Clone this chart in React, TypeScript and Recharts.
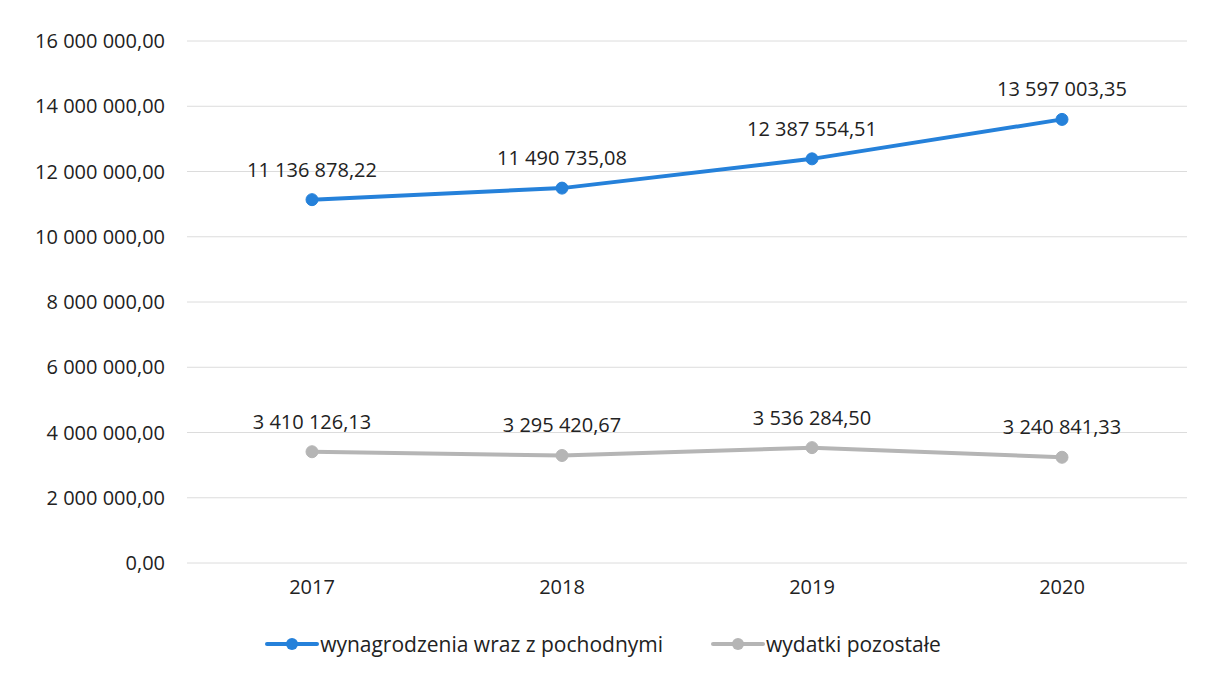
import React from "react";
import { LineChart, Line, XAxis, YAxis, CartesianGrid, LabelList, Legend } from "recharts";

const years = ["2017", "2018", "2019", "2020"];
const wynagrodzenia = [11136878.22, 11490735.08, 12387554.51, 13597003.35];
const wydatki = [3410126.13, 3295420.67, 3536284.5, 3240841.33];
const yTicks = [0, 2000000, 4000000, 6000000, 8000000, 10000000, 12000000, 14000000, 16000000];

const data = years.map((y, i) => ({ year: y, a: wynagrodzenia[i], b: wydatki[i] }));

const BLUE = "#2581da";
const GRAY = "#b5b5b5";
const FONT = "'Open Sans', sans-serif";

function fmt(v: number): string {
  const [int, dec] = Math.abs(v).toFixed(2).split(".");
  const grouped = int.replace(/\B(?=(\d{3})+(?!\d))/g, " ");
  return grouped + "," + dec;
}

const LegendContent = () => {
  const items = [
    { name: "wynagrodzenia wraz z pochodnymi", color: BLUE },
    { name: "wydatki pozostałe", color: GRAY },
  ];
  return (
    <div style={{ display: "flex", justifyContent: "center", gap: 48, fontFamily: FONT, fontSize: 21, color: "#222" }}>
      {items.map((it) => (
        <div key={it.name} style={{ display: "flex", alignItems: "center" }}>
          <svg width={54} height={20} style={{ marginRight: 1 }}>
            <line x1={2} y1={10} x2={52} y2={10} stroke={it.color} strokeWidth={4} strokeLinecap="round" />
            <circle cx={27} cy={10} r={6} fill={it.color} />
          </svg>
          <span>{it.name}</span>
        </div>
      ))}
    </div>
  );
};

export default function App() {
  return (
    <div style={{ position: "fixed", left: 0, top: 0, width: 1206, height: 676, background: "#fff" }}>
      <LineChart width={1206} height={676} data={data} margin={{ top: 41, right: 19, left: 0, bottom: 25 }}>
        <CartesianGrid vertical={false} stroke="#dcdcdc" strokeWidth={1} />
        <XAxis
          dataKey="year"
          axisLine={false}
          tickLine={false}
          tickSize={0}
          tickMargin={17}
          height={60}
          padding={{ left: 125, right: 125 }}
          tick={{ fontSize: 20, fill: "#222", fontFamily: FONT }}
        />
        <YAxis
          width={187}
          domain={[0, 16000000]}
          ticks={yTicks}
          axisLine={false}
          tickLine={false}
          tickSize={0}
          tickMargin={22}
          tickFormatter={(v: number) => fmt(v)}
          tick={{ fontSize: 20, fill: "#222", fontFamily: FONT }}
        />
        <Legend
          verticalAlign="bottom"
          content={<LegendContent />}
          wrapperStyle={{ top: 630, bottom: "auto", left: 0, width: 1206 }}
        />
        <Line
          dataKey="a"
          name="wynagrodzenia wraz z pochodnymi"
          stroke={BLUE}
          strokeWidth={4}
          dot={{ r: 6, fill: BLUE, stroke: BLUE, strokeWidth: 1 }}
          isAnimationActive={false}
        >
          <LabelList dataKey="a" position="top" offset={23} formatter={(v: number) => fmt(v)} style={{ fontSize: 20, fill: "#222", fontFamily: FONT }} />
        </Line>
        <Line
          dataKey="b"
          name="wydatki pozostałe"
          stroke={GRAY}
          strokeWidth={4}
          dot={{ r: 6, fill: GRAY, stroke: GRAY, strokeWidth: 1 }}
          isAnimationActive={false}
        >
          <LabelList dataKey="b" position="top" offset={23} formatter={(v: number) => fmt(v)} style={{ fontSize: 20, fill: "#222", fontFamily: FONT }} />
        </Line>
      </LineChart>
    </div>
  );
}
